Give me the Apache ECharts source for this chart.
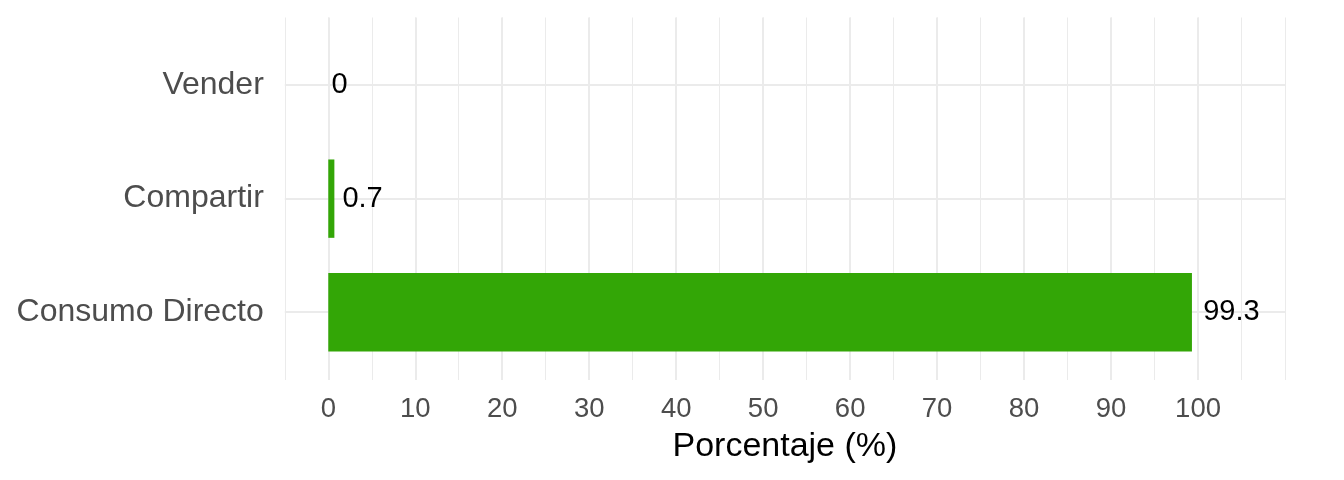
<!DOCTYPE html>
<html>
<head>
<meta charset="utf-8">
<script src="https://cdn.jsdelivr.net/npm/echarts@6/dist/echarts.min.js"></script>
<style>
html,body{margin:0;padding:0;background:#fff;}
#chart{width:1344px;height:480px;}
</style>
</head>
<body>
<div id="chart"></div>
<script>
// ---- data ----
const categories = ['Consumo Directo', 'Compartir', 'Vender'];
const values = [99.3, 0.7, 0];
const tickLabels = [0, 10, 20, 30, 40, 50, 60, 70, 80, 90, 100];
const axisTitle = 'Porcentaje (%)';

const FONT = "'Liberation Sans', Arial, Helvetica, sans-serif";
const labelSize = 29;
const ctx = document.createElement('canvas').getContext('2d');
ctx.font = labelSize + 'px ' + FONT;
function tw(s){ return ctx.measureText(s).width; }

const GRID_LEFT = 284.8, GRID_RIGHT = 59;
const chart = echarts.init(document.getElementById('chart'), null, {renderer: 'canvas'});

const gridColor = '#EBEBEB';

const option = {
  animation: false,
  backgroundColor: '#ffffff',
  grid: [
    {left: GRID_LEFT, right: GRID_RIGHT, top: 17.5, bottom: 480 - 380, containLabel: false},
    {left: GRID_LEFT, right: GRID_RIGHT, top: 28.3, bottom: 480 - 369, containLabel: false}
  ],
  xAxis: [
    {
      gridIndex: 0, type: 'value', min: -5, max: 110, interval: 5,
      axisLine: {show: false}, axisTick: {show: false},
      splitLine: {show: true, lineStyle: {color: gridColor, width: 1}},
      axisLabel: {
        show: true, margin: 15, color: '#4D4D4D', fontSize: 27.5, fontFamily: FONT,
        formatter: v => tickLabels.indexOf(v) >= 0 ? String(v) : ''
      },
      name: axisTitle, nameLocation: 'middle', nameGap: 50,
      nameTextStyle: {color: '#000', fontSize: 34, fontFamily: FONT}
    },
    {
      gridIndex: 1, type: 'value', min: -5, max: 110, interval: 5,
      show: false
    }
  ],
  yAxis: [
    {gridIndex: 0, type: 'value', min: 0, max: 1, show: false},
    {
      gridIndex: 1, type: 'category', data: categories,
      axisLine: {show: false}, axisTick: {show: false},
      splitLine: {show: false},
      axisLabel: {margin: 21, color: '#4D4D4D', fontSize: 32, fontFamily: FONT, padding: [4, 0, 0, 0]}
    }
  ],
  series: [
    {
      type: 'line', xAxisIndex: 0, yAxisIndex: 0, data: [], silent: true, z: 0,
      markLine: {
        silent: true, symbol: 'none', animation: false,
        label: {show: false},
        lineStyle: {color: gridColor, width: 2, type: 'solid'},
        data: tickLabels.map(t => ({xAxis: t}))
      }
    },
    {
      type: 'line', xAxisIndex: 1, yAxisIndex: 1, data: [], silent: true, z: 0,
      markLine: {
        silent: true, symbol: 'none', animation: false,
        label: {show: false},
        lineStyle: {color: gridColor, width: 2, type: 'solid'},
        data: categories.map(c => ({yAxis: c}))
      }
    },
    {
      type: 'bar', xAxisIndex: 1, yAxisIndex: 1, z: 5,
      barWidth: '69%',
      itemStyle: {color: '#33A606'},
      data: values.map(v => ({
        value: v,
        label: {distance: 0.2 * tw(String(v))}
      })),
      label: {
        show: true, position: 'right', color: '#000',
        fontSize: labelSize, fontFamily: FONT,
        formatter: p => String(p.value)
      }
    }
  ]
};
chart.setOption(option);
</script>
</body>
</html>
